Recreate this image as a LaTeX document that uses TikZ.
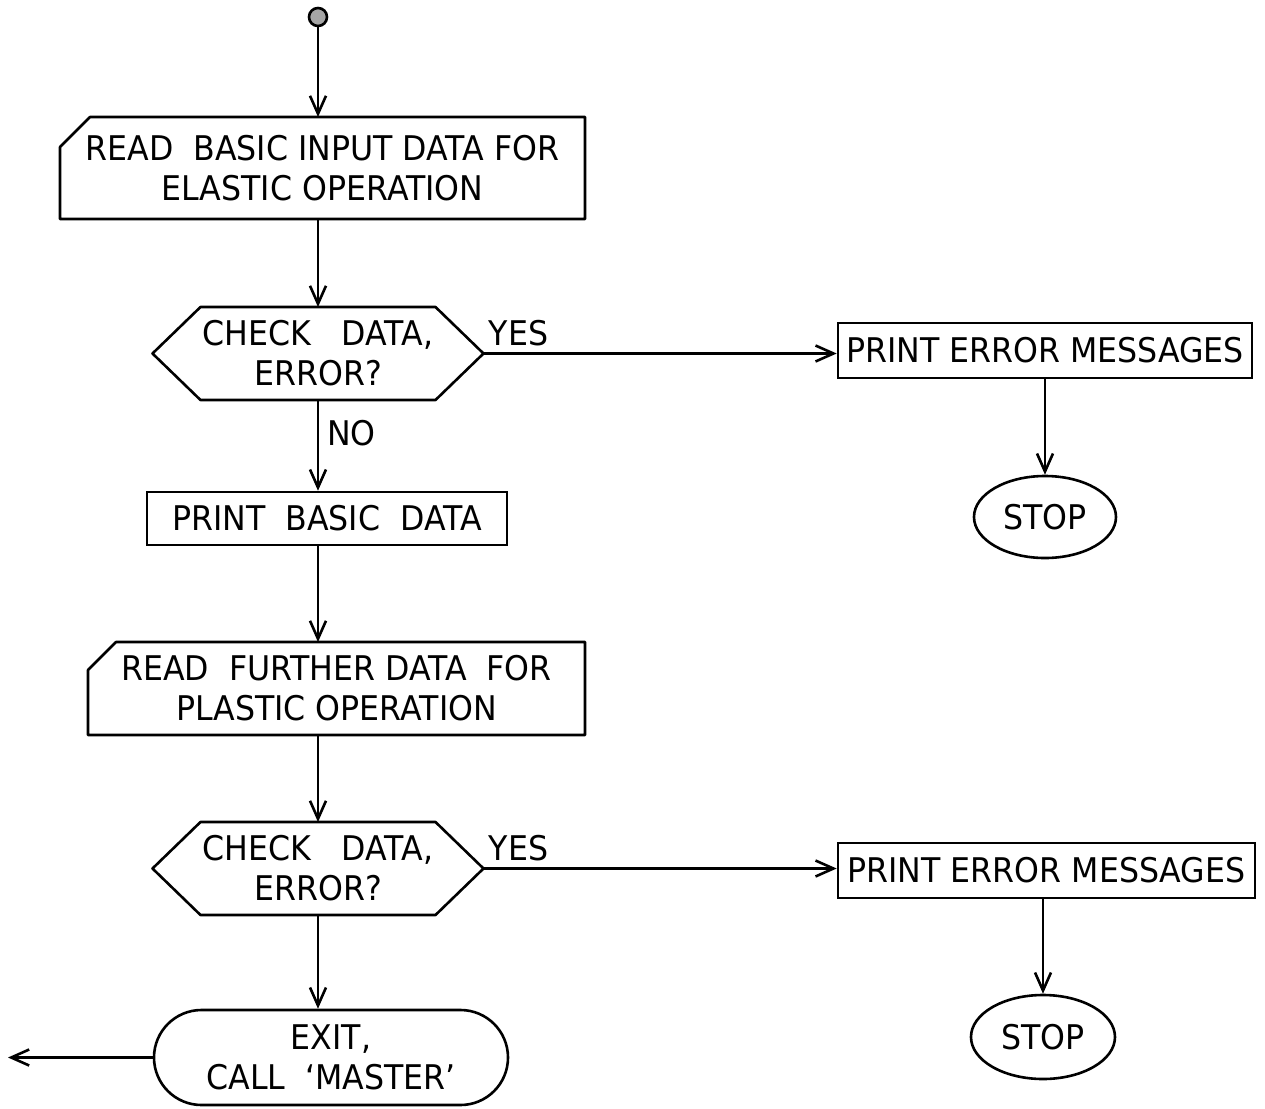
\documentclass[tikz,border=0pt]{standalone}
\usepackage{fontspec}
\setmainfont{DejaVu Sans}[FakeStretch=0.93]
\usetikzlibrary{arrows.meta,shapes.geometric,shapes.misc}

\tikzset{
	flow/.style={line width=1.3pt,-{Straight Barb[length=9pt,width=8pt,line width=1.3pt]}},
	outline/.style={line width=1.3pt,line join=round},
	txt/.style={font=\fontsize{17}{20}\selectfont,align=center,inner sep=2pt},
	box/.style={txt,draw,line width=1.3pt,rectangle,minimum height=27.5pt},
	card/.style={txt,rectangle,outer sep=0pt},
	test/.style={txt,rectangle,outer sep=0pt,minimum height=46.5pt},
	term/.style={txt,draw,line width=1.3pt,rounded rectangle,minimum width=181pt,minimum height=47.5pt},
	halt/.style={txt,draw,line width=1.3pt,ellipse,minimum width=71pt,minimum height=41pt},
	start/.style={draw,line width=1.3pt,circle,fill=black!35,minimum size=9pt,inner sep=0pt}
}

\begin{document}
\begin{tikzpicture}[x=0.5pt,y=-0.5pt]

	\useasboundingbox (0,0) rectangle (1265,1109);

	\node[start] (s) at (318,17) {};
	\node[card,minimum width=262.5pt,minimum height=51pt] (rd1) at (322.5,168)
		{READ\ \ BASIC INPUT DATA FOR\\ELASTIC OPERATION};
	\node[test,minimum width=165.5pt] (hx1) at (318,353.5) {CHECK\ \ \ DATA,\\ERROR?};
	\node[box,minimum width=207pt] (err1) at (1045,350.5) {PRINT ERROR MESSAGES};
	\node[halt] (stop1) at (1045,517) {STOP};
	\node[box,minimum width=180pt,minimum height=26.5pt] (pbd) at (327,518.5) {PRINT\ \ BASIC\ \ DATA};
	\node[card,minimum width=248.5pt,minimum height=46.5pt] (rd2) at (336.5,688.5)
		{READ\ \ FURTHER DATA\ \ FOR\\PLASTIC OPERATION};
	\node[test,minimum width=165.5pt] (hx2) at (318,868.5) {CHECK\ \ \ DATA,\\ERROR?};
	\node[box,minimum width=208.5pt] (err2) at (1046.5,870.5) {PRINT ERROR MESSAGES};
	\node[halt,minimum width=72pt,minimum height=42pt] (stop2) at (1043,1037) {STOP};
	\node[term] (ex) at (331,1057.5) {EXIT,\\CALL\ \ `MASTER'};
	\coordinate (out) at (8,1057.5);

	% cards with the corner cut off
	\draw[outline] ([yshift=-15pt]rd1.north west) -- ([xshift=15pt]rd1.north west) -- (rd1.north east)
		-- (rd1.south east) -- (rd1.south west) -- cycle;
	\draw[outline] ([yshift=-14pt]rd2.north west) -- ([xshift=14pt]rd2.north west) -- (rd2.north east)
		-- (rd2.south east) -- (rd2.south west) -- cycle;

	% decision hexagons
	\draw[outline] (hx1.west) -- ([xshift=24pt]hx1.north west) -- ([xshift=-24pt]hx1.north east)
		-- (hx1.east) -- ([xshift=-24pt]hx1.south east) -- ([xshift=24pt]hx1.south west) -- cycle;
	\draw[outline] (hx2.west) -- ([xshift=24pt]hx2.north west) -- ([xshift=-24pt]hx2.north east)
		-- (hx2.east) -- ([xshift=-24pt]hx2.south east) -- ([xshift=24pt]hx2.south west) -- cycle;

	\draw[flow] (s) -- (s |- rd1.north);
	\draw[flow] (rd1.south -| s) -- (hx1.north);
	\draw[flow] (hx1.east) -- node[txt,pos=0,anchor=south west,yshift=1pt] (yes1) {YES} (hx1.east -| err1.west);
	\draw[flow] (err1.south -| stop1) -- (stop1);
	\draw[flow] (hx1.south) -- node[txt,pos=0.36,right,xshift=2pt] (no1) {NO} (hx1.south |- pbd.north);
	\draw[flow] (pbd.south -| s) -- (rd2.north -| s);
	\draw[flow] (rd2.south -| s) -- (hx2.north);
	\draw[flow] (hx2.east) -- node[txt,pos=0,anchor=south west,yshift=1pt] (yes2) {YES} (hx2.east -| err2.west);
	\draw[flow] (err2.south -| stop2) -- (stop2);
	\draw[flow] (hx2.south) -- (hx2.south |- ex.north);
	\draw[flow] (ex.west) -- (out);

\end{tikzpicture}
\end{document}
